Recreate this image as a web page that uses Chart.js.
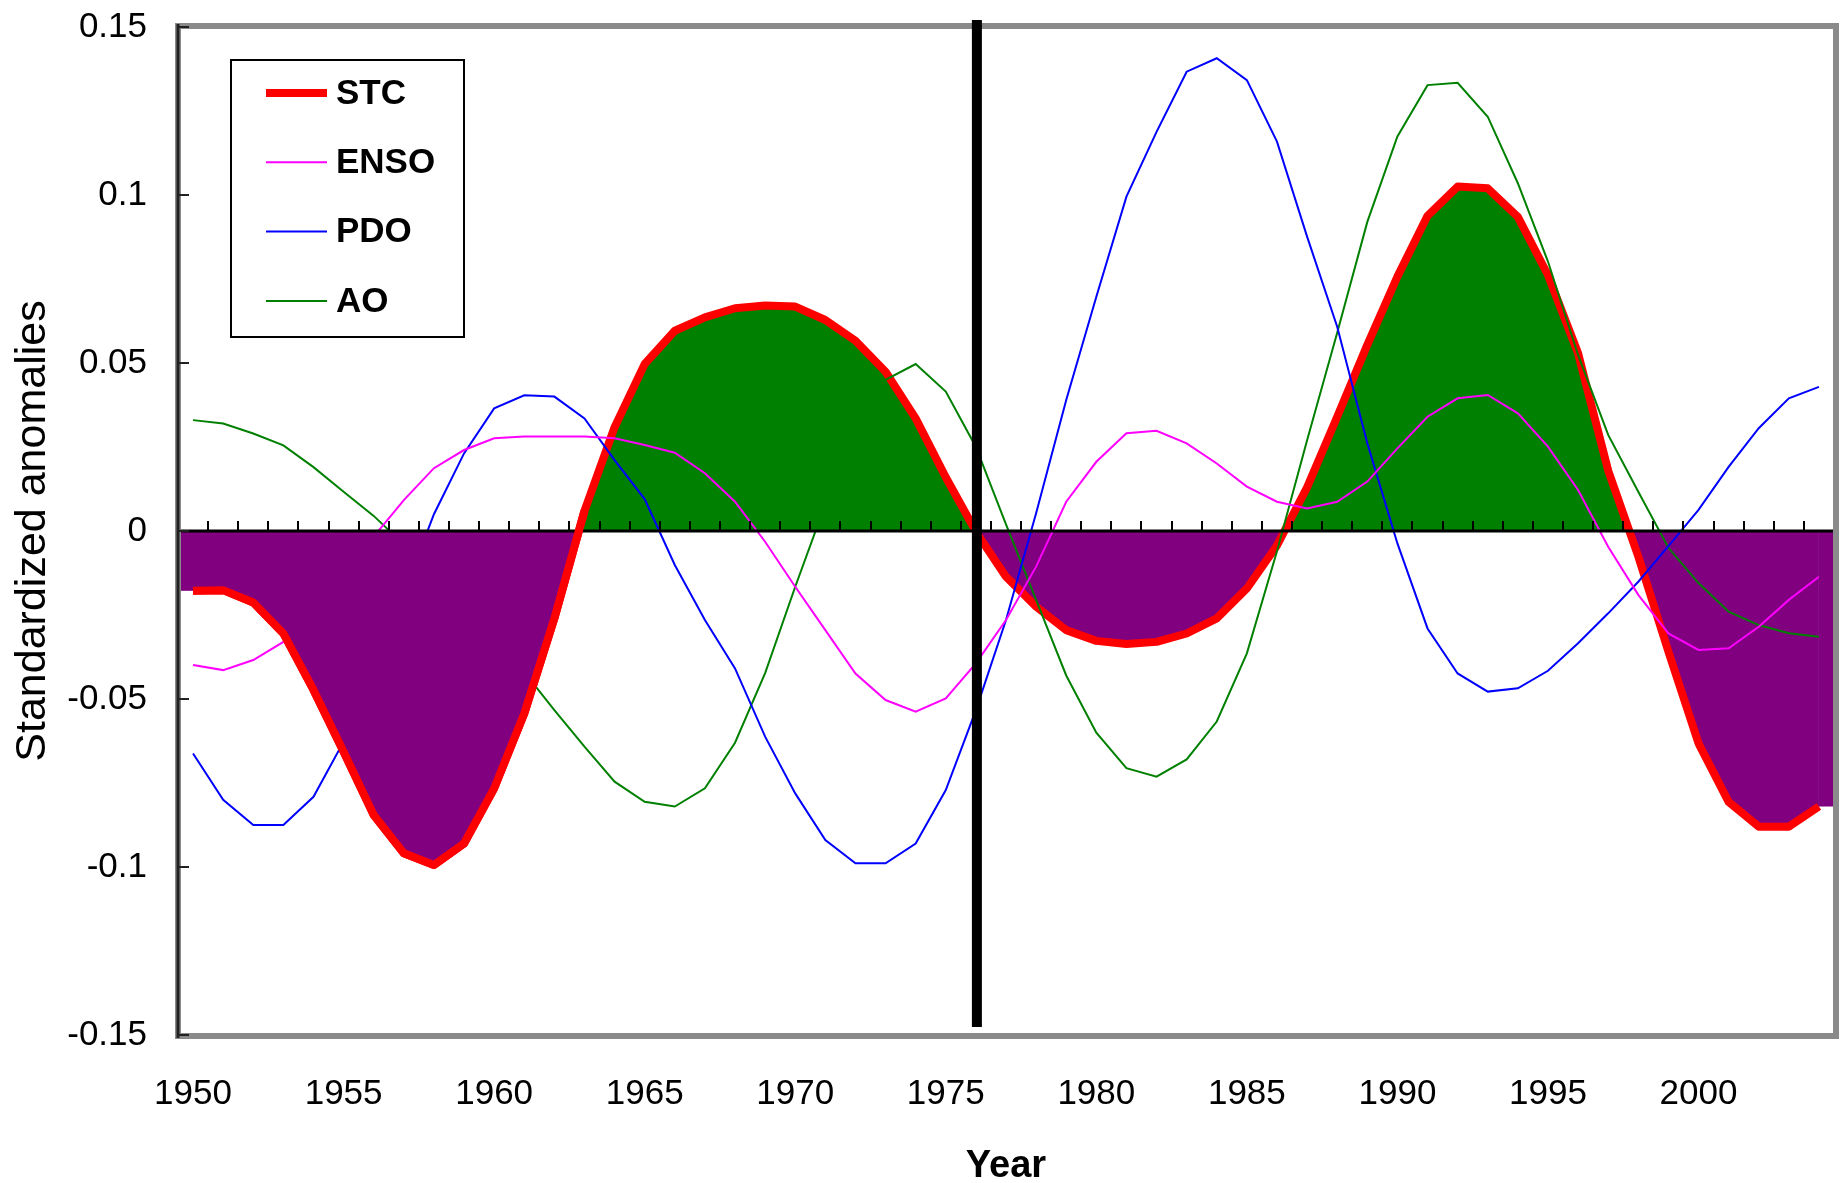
<!DOCTYPE html>
<html lang="en">
<head>
    <meta charset="UTF-8">
    <title>STC, ENSO, PDO and AO standardized anomalies</title>
    <script src="https://cdn.jsdelivr.net/npm/chart.js"></script>
    <style>
        html, body { margin: 0; padding: 0; background: #fff; }
        .chart-wrapper { position: relative; width: 1847px; height: 1183px; }
    </style>
</head>
<body>
    <div class="chart-wrapper">
        <canvas id="anomaly-chart"></canvas>
    </div>

    <script>
        // categories
        const years = ['1950', '1951', '1952', '1953', '1954', '1955', '1956', '1957', '1958', '1959',
                       '1960', '1961', '1962', '1963', '1964', '1965', '1966', '1967', '1968', '1969',
                       '1970', '1971', '1972', '1973', '1974', '1975', '1976', '1977', '1978', '1979',
                       '1980', '1981', '1982', '1983', '1984', '1985', '1986', '1987', '1988', '1989',
                       '1990', '1991', '1992', '1993', '1994', '1995', '1996', '1997', '1998', '1999',
                       '2000', '2001', '2002', '2003', '2004'];

        // series values
        const stc = [-0.0178, -0.0176, -0.0213, -0.0305, -0.0473, -0.0657, -0.0845, -0.0959, -0.0994, -0.093,
                     -0.0766, -0.0543, -0.026, 0.006, 0.0309, 0.0497, 0.0596, 0.0636, 0.0663, 0.0671,
                     0.0668, 0.0628, 0.0566, 0.0474, 0.0335, 0.016, -0.0002, -0.0136, -0.0225, -0.0295,
                     -0.0327, -0.0336, -0.033, -0.0305, -0.026, -0.0171, -0.0043, 0.013, 0.034, 0.0554,
                     0.0757, 0.0938, 0.1025, 0.102, 0.0935, 0.0762, 0.0529, 0.018, -0.0076, -0.0359,
                     -0.0632, -0.0806, -0.088, -0.088, -0.082];

        const enso = [-0.0399, -0.0414, -0.0384, -0.033, -0.0218, -0.0116, -0.0017, 0.0092, 0.0187, 0.0241,
                      0.0276, 0.0281, 0.0281, 0.0281, 0.0276, 0.0256, 0.0233, 0.0172, 0.0087, -0.0032,
                      -0.0166, -0.0295, -0.0424, -0.0503, -0.0538, -0.0498, -0.0394, -0.0265, -0.0106, 0.0087,
                      0.0206, 0.0291, 0.0298, 0.0261, 0.0201, 0.0132, 0.0087, 0.0067, 0.0087, 0.0147,
                      0.0246, 0.034, 0.0395, 0.0405, 0.035, 0.0251, 0.0122, -0.0047, -0.019, -0.0305,
                      -0.0354, -0.0349, -0.0285, -0.0205, -0.0136];

        const pdo = [-0.0662, -0.08, -0.0875, -0.0875, -0.0791, -0.0627, -0.04, -0.0185, 0.005, 0.0231,
                     0.0365, 0.0404, 0.04, 0.0335, 0.0211, 0.0095, -0.0101, -0.0265, -0.0409, -0.0612,
                     -0.0781, -0.092, -0.0989, -0.0989, -0.093, -0.0771, -0.0533, -0.0265, 0.0053, 0.039,
                     0.0697, 0.0995, 0.1188, 0.1367, 0.1407, 0.1342, 0.1159, 0.0876, 0.0608, 0.0261,
                     -0.0037, -0.029, -0.0424, -0.0478, -0.0468, -0.0416, -0.0334, -0.0245, -0.0151, -0.0045,
                     0.0063, 0.0191, 0.0306, 0.0395, 0.0429];

        const ao = [0.033, 0.032, 0.029, 0.0255, 0.019, 0.0117, 0.0045, -0.004, -0.0125, -0.021,
                    -0.0316, -0.042, -0.0533, -0.0642, -0.0746, -0.0806, -0.082, -0.0766, -0.063, -0.0423,
                    -0.0166, 0.008, 0.03, 0.045, 0.0497, 0.0415, 0.025, 0.002, -0.0205, -0.043,
                    -0.06, -0.0706, -0.0731, -0.068, -0.0567, -0.0364, -0.006, 0.027, 0.059, 0.092,
                    0.1174, 0.1327, 0.1334, 0.1233, 0.1035, 0.0802, 0.0524, 0.0286, 0.0117, -0.005,
                    -0.0155, -0.024, -0.028, -0.0304, -0.0315];

        // tick labels
        const xLabelYears = ['1950', '1955', '1960', '1965', '1970', '1975', '1980', '1985', '1990', '1995', '2000'];
        const yTicks = [-0.15, -0.1, -0.05, 0, 0.05, 0.1, 0.15];
        const yTickLabels = ['-0.15', '-0.1', '-0.05', '0', '0.05', '0.1', '0.15'];

        const shiftYear = '1976';      // the thick vertical marker
        const earlyEndYear = '1963';   // the first purple lobe is painted over the thin lines

        const FONT = "'Liberation Sans', Arial, sans-serif";
        Chart.defaults.font.family = FONT;
        Chart.defaults.color = '#000';

        const earlyEnd = years.indexOf(earlyEndYear);
        const stcEarly = stc.map((v, i) => (i <= earlyEnd ? v : null));

        const stcFill = { target: 'origin', above: '#008000', below: '#800080' };

        const decorations = {
            id: 'decorations',
            beforeDatasetDraw(chart, args) {
                if (args.index !== 4) return;
                const { ctx, chartArea: a, scales: { x, y } } = chart;
                const y0 = y.getPixelForValue(0);
                ctx.save();

                // the area colour runs on to the plot edges
                const last = stc.length - 1;
                const x0 = x.getPixelForValue(0), xN = x.getPixelForValue(last);
                ctx.fillStyle = stc[0] < 0 ? '#800080' : '#008000';
                ctx.fillRect(a.left, y0, x0 - a.left, y.getPixelForValue(stc[0]) - y0);
                ctx.fillStyle = stc[last] < 0 ? '#800080' : '#008000';
                ctx.fillRect(xN, y0, a.right - xN, y.getPixelForValue(stc[last]) - y0);

                // zero line with its tick marks, over the fills
                ctx.strokeStyle = '#000';
                ctx.lineWidth = 3;
                ctx.beginPath();
                ctx.moveTo(a.left, y0);
                ctx.lineTo(a.right, y0);
                ctx.stroke();
                ctx.lineWidth = 2;
                ctx.beginPath();
                for (let i = 1; i < years.length; i++) {
                    const bx = Math.round((x.getPixelForValue(i - 1) + x.getPixelForValue(i)) / 2);
                    ctx.moveTo(bx, y0);
                    ctx.lineTo(bx, y0 - 10);
                }
                ctx.stroke();
                ctx.restore();
            },
            afterDatasetsDraw(chart) {
                const { ctx, chartArea: a, scales: { x, y } } = chart;
                ctx.save();

                // plot frame
                ctx.strokeStyle = '#8a8a8a';
                ctx.lineWidth = 6;
                ctx.strokeRect(a.left, a.top - 1, a.right + 2 - a.left, a.bottom - a.top + 2);

                // left axis and its inner ticks
                ctx.strokeStyle = '#222';
                ctx.lineWidth = 3;
                ctx.beginPath();
                ctx.moveTo(a.left, a.top - 3);
                ctx.lineTo(a.left, a.bottom + 3);
                ctx.stroke();
                ctx.lineWidth = 2;
                ctx.beginPath();
                yTicks.forEach(v => {
                    const ty = Math.round(y.getPixelForValue(v));
                    ctx.moveTo(a.left, ty);
                    ctx.lineTo(a.left + 11, ty);
                });
                ctx.stroke();

                // 1976 marker
                const sx = x.getPixelForValue(years.indexOf(shiftYear));
                ctx.fillStyle = '#000';
                ctx.fillRect(sx - 4, a.top - 7, 10, a.bottom - a.top - 1);

                // legend box
                const lx = 231, ly = 60, lw = 233, lh = 277;
                ctx.fillStyle = '#fff';
                ctx.fillRect(lx, ly, lw, lh);
                ctx.strokeStyle = '#000';
                ctx.lineWidth = 2;
                ctx.strokeRect(lx, ly, lw, lh);
                ctx.font = 'bold 35px ' + FONT;
                ctx.textBaseline = 'middle';
                ctx.textAlign = 'left';
                [0, 1, 2, 3].forEach((di, k) => {
                    const ds = chart.data.datasets[di];
                    const ry = 93 + k * 69.3;
                    ctx.strokeStyle = ds.borderColor;
                    ctx.lineWidth = ds.borderWidth;
                    ctx.beginPath();
                    ctx.moveTo(266, ry);
                    ctx.lineTo(327, ry);
                    ctx.stroke();
                    ctx.fillStyle = '#000';
                    ctx.fillText(ds.label, 336, ry + 1);
                });
                ctx.restore();
            }
        };

        new Chart(document.getElementById('anomaly-chart').getContext('2d'), {
            type: 'line',
            data: {
                labels: years,
                datasets: [
                    { label: 'STC', data: stc, borderColor: '#ff0000', borderWidth: 8, fill: stcFill,
                      borderJoinStyle: 'round', order: 3 },
                    { label: 'ENSO', data: enso, borderColor: '#ff00ff', borderWidth: 2, fill: false, order: 2 },
                    { label: 'PDO', data: pdo, borderColor: '#0000ff', borderWidth: 2, fill: false, order: 2 },
                    { label: 'AO', data: ao, borderColor: '#008000', borderWidth: 2, fill: false, order: 2 },
                    { label: 'STC early', data: stcEarly, borderColor: '#ff0000', borderWidth: 8, fill: stcFill,
                      borderJoinStyle: 'round', order: 0 }
                ]
            },
            options: {
                responsive: true,
                maintainAspectRatio: false,
                animation: false,
                layout: { padding: { left: 0, top: 27, right: 13, bottom: 0 } },
                elements: { point: { radius: 0, hoverRadius: 0 }, line: { tension: 0 } },
                plugins: {
                    legend: { display: false },
                    tooltip: { enabled: false }
                },
                scales: {
                    x: {
                        offset: true,
                        grid: { display: false, drawTicks: false },
                        border: { display: false },
                        ticks: {
                            autoSkip: false, maxRotation: 0, minRotation: 0, padding: 38,
                            color: '#000', font: { size: 35 },
                            callback: (v, i) => (xLabelYears.includes(years[i]) ? years[i] : null)
                        },
                        title: { display: true, text: 'Year', color: '#000',
                                 font: { size: 38, weight: 'bold', lineHeight: 0.85 }, padding: 0 },
                        afterFit: s => { s.height = 148; }
                    },
                    y: {
                        min: -0.15, max: 0.15,
                        afterBuildTicks: s => { s.ticks = yTicks.map(v => ({ value: v })); },
                        grid: { display: false, drawTicks: false },
                        border: { display: false },
                        ticks: {
                            padding: 31, color: '#000', font: { size: 35 },
                            callback: v => yTickLabels[yTicks.indexOf(v)]
                        },
                        title: { display: true, text: 'Standardized anomalies', color: '#000',
                                 font: { size: 43 }, padding: { top: 7, bottom: 0 } },
                        afterFit: s => {
                            s.width = 178;
                            s.paddingTop = 0;
                            s.paddingBottom = 0;
                        }
                    }
                }
            },
            plugins: [decorations]
        });
    </script>
</body>
</html>
